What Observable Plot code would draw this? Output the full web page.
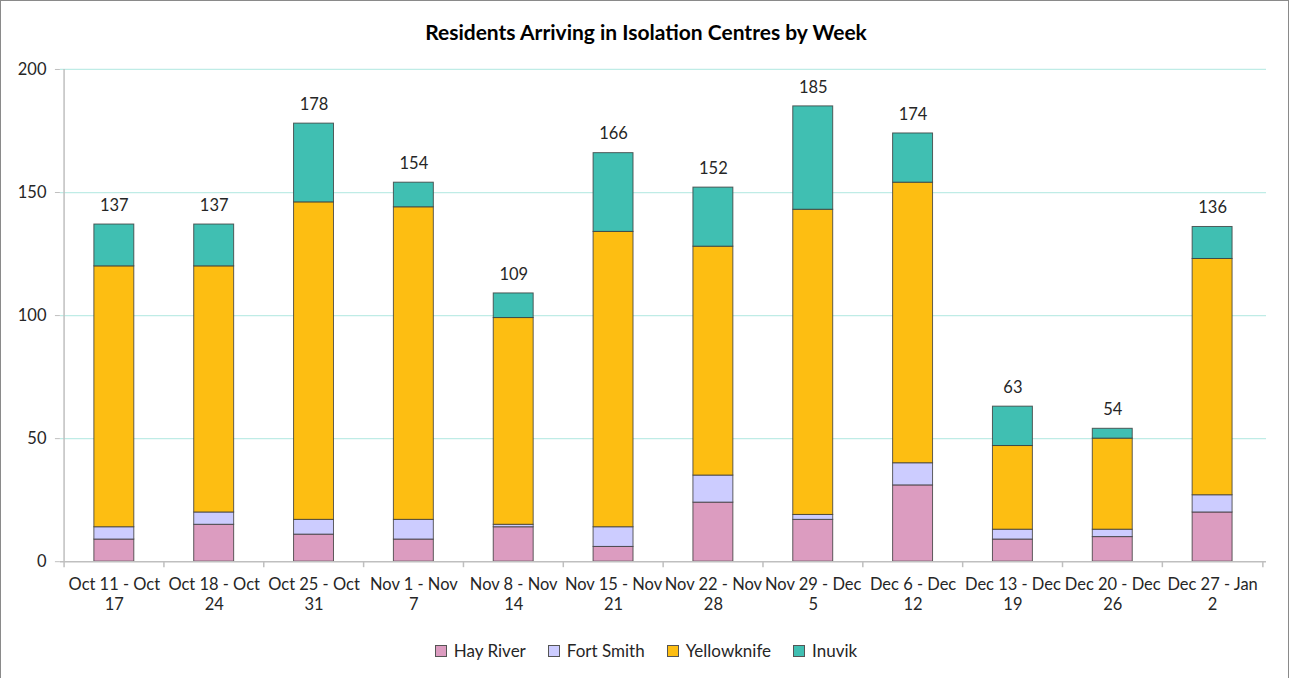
<!DOCTYPE html>
<html><head><meta charset="utf-8">
<script src="https://cdn.jsdelivr.net/npm/d3@7"></script>
<script src="https://cdn.jsdelivr.net/npm/@observablehq/plot@0.6"></script>
<style>
body{margin:0;background:#fff;font-family:Lato,"Open Sans",sans-serif;}
#frame{position:relative;width:1289px;height:679px;border:1px solid #8a8a8a;box-sizing:border-box;overflow:hidden;}
#title{position:absolute;top:18px;left:0;width:1290px;text-align:center;font-size:21px;font-weight:bold;color:#000;}
#chart{position:absolute;top:49px;left:-1px;}
#legend{position:absolute;top:639px;left:0;width:1290px;display:flex;justify-content:center;gap:22px;font-size:17px;color:#262626;}
#legend span.item{display:flex;align-items:center;gap:7px;}
#legend span.sw{display:inline-block;width:10px;height:10px;border:1px solid #555;}
</style>
</head><body>
<div id="frame">
<div id="title">Residents Arriving in Isolation Centres by Week</div>
<div id="chart"></div>
<div id="legend"></div>
</div>
<script>
const weeks = ["Oct 11 - Oct 17","Oct 18 - Oct 24","Oct 25 - Oct 31","Nov 1 - Nov 7","Nov 8 - Nov 14","Nov 15 - Nov 21","Nov 22 - Nov 28","Nov 29 - Dec 5","Dec 6 - Dec 12","Dec 13 - Dec 19","Dec 20 - Dec 26","Dec 27 - Jan 2"];
const seriesNames = ["Hay River","Fort Smith","Yellowknife","Inuvik"];
const seriesColors = ["#dc9cc0","#ccccff","#fdbe12","#40bfb2"];
const hayRiver = [9,15,11,9,14,6,24,17,31,9,10,20];
const fortSmith = [5,5,6,8,1,8,11,2,9,4,3,7];
const yellowknife = [106,100,129,127,84,120,93,124,114,34,37,96];
const inuvik = [17,17,32,10,10,32,24,42,20,16,4,13];
const yTicks = [0,50,100,150,200];

const seriesValues = [hayRiver, fortSmith, yellowknife, inuvik];
const rows = weeks.flatMap((w,i) => seriesNames.map((s,j) => ({week:w, series:s, value:seriesValues[j][i]})));
const totals = weeks.map((w,i) => ({week:w, total: seriesValues.reduce((a,arr)=>a+arr[i],0)}));

const W = 1290, mL = 60, mR = 22;
const step = (W - mL - mR) / weeks.length;

const chart = Plot.plot({
  width: W, height: 576,
  marginTop: 19, marginBottom: 64, marginLeft: mL, marginRight: mR,
  style: {fontFamily: "Lato, 'Open Sans', sans-serif", fontSize: "16px", color: "#262626", background: "transparent"},
  x: {domain: weeks, paddingInner: 0.6, paddingOuter: 0.3, label: null},
  y: {domain: [0,200], label: null},
  color: {domain: seriesNames, range: seriesColors},
  marks: [
    Plot.ruleY(yTicks.filter(d => d > 0), {stroke: "#bfece6", strokeWidth: 1.3}),
    Plot.barY(rows, {x: "week", y: "value", fill: "series", stroke: "#3a3a3a", strokeOpacity: 0.8, strokeWidth: 1}),
    Plot.ruleY([0], {stroke: "#bfbfbf", strokeWidth: 1.5}),
    Plot.ruleX([weeks[0]], {x: d => d, dx: -step/2, y1: 0, y2: 200, stroke: "#bfbfbf", strokeWidth: 1.5}),
    Plot.ruleX(weeks, {x: d => d, dx: -step/2, y1: 0, y2: 0, insetBottom: -6, stroke: "#bfbfbf", strokeWidth: 1.5}),
    Plot.ruleX([weeks[weeks.length-1]], {x: d => d, dx: step/2, y1: 0, y2: 0, insetBottom: -6, stroke: "#bfbfbf", strokeWidth: 1.5}),
    Plot.axisY({ticks: yTicks, tickSize: 5, tickPadding: 9, stroke: "#bfbfbf", fill: "#262626", label: null, fontSize: 16.5}),
    Plot.axisX({tickSize: 0, tickPadding: 14, label: null, fill: "#262626", fontSize: 16.5, lineHeight: 1.22,
      tickFormat: d => d.replace(/ (\S+)$/, "\n$1")}),
    Plot.text(totals, {x: "week", y: "total", text: "total", dy: -19, fill: "#262626", fontSize: 16.5})
  ]
});
document.getElementById("chart").appendChild(chart);

const legend = document.getElementById("legend");
seriesNames.forEach((s,i) => {
  const it = document.createElement("span");
  it.className = "item";
  const sw = document.createElement("span");
  sw.className = "sw";
  sw.style.background = seriesColors[i];
  it.appendChild(sw);
  it.appendChild(document.createTextNode(s));
  legend.appendChild(it);
});
</script>
</body></html>
